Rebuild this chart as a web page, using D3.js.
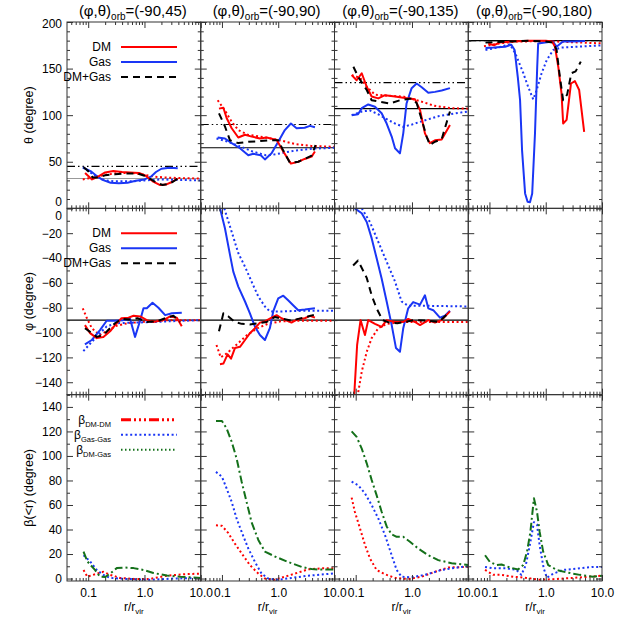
<!DOCTYPE html>
<html>
<head>
<meta charset="utf-8">
<script src="https://cdn.jsdelivr.net/npm/d3@7"></script>
<style>
  body { margin: 0; background: #fff; }
  text { font-family: "Liberation Sans", Arial, Helvetica, sans-serif; fill: #000; }
</style>
</head>
<body>
<script>

// panel titles and the reference angles of each orbit
var orbLabels = ["(-90,45)", "(-90,90)", "(-90,135)", "(-90,180)"];
var orbTheta = [45, 90, 135, 180];
var meanTheta = [32, 65, 107, 180];
var meanPhi = [-90, -90, -90, null];
var xMajor = [0.1, 1, 10];

// theta profiles, one list of [r/rvir, degree] per column
var thetaDM = [
  [[0.088,38],[0.117,31],[0.15,34],[0.2,38.5],[0.28,40],[0.4,39],[0.55,38.5],[0.8,38],[1.05,35],[1.4,29],[1.9,25],[2.4,25.5],[3.0,28],[3.9,32]],
  [[0.0885,107],[0.106,108],[0.121,97],[0.149,86],[0.195,76],[0.257,79],[0.338,77],[0.473,75],[0.622,76],[0.935,73.5],[1.23,61],[1.68,48],[2.27,50],[2.95,53],[3.92,55.5],[4.49,61]],
  [[0.085,143],[0.104,137.5],[0.128,145],[0.157,130.5],[0.192,120],[0.252,118],[0.331,121.5],[0.5,120],[0.75,118.5],[1.13,117],[1.39,105.5],[1.7,80.5],[2.08,70],[2.56,73],[3.37,74],[4.73,89.5]],
  [[0.095,177],[0.12,175],[0.15,178],[0.25,179],[0.5,180],[1.0,180],[1.3,179],[1.46,173.5],[1.67,152],[1.91,123],[2.04,91],[2.35,95],[2.81,134],[3.3,136.5],[3.93,127],[4.82,82]]
];
var thetaGas = [
  [[0.085,43],[0.11,40],[0.14,35],[0.18,30.5],[0.25,27.5],[0.35,27],[0.5,27.5],[0.7,29.5],[1.0,31],[1.3,34],[1.6,39],[2.0,42.5],[2.8,43.5],[3.9,43]],
  [[0.084,76],[0.113,75],[0.149,70],[0.209,64.5],[0.294,57],[0.36,58.5],[0.489,57],[0.58,52.5],[0.762,59],[1.0,71.5],[1.31,84],[1.68,91],[2.12,86],[2.95,86.5],[3.66,88.5],[4.49,87]],
  [[0.085,100],[0.11,101],[0.128,107.5],[0.167,111.5],[0.22,109],[0.289,102],[0.355,91],[0.436,77],[0.5,64.5],[0.611,59],[0.70,80.5],[0.80,112.5],[0.986,129],[1.21,134],[1.49,130],[1.95,124],[2.56,125],[3.37,126.5],[4.73,129]],
  [[0.085,172],[0.12,172.5],[0.19,173.5],[0.245,175.5],[0.28,170],[0.32,140],[0.35,116],[0.38,62],[0.43,16],[0.476,7],[0.525,6.5],[0.575,16],[0.644,80],[0.706,152],[0.734,177],[0.97,178],[1.34,179],[1.56,173.5],[2.02,179],[3.0,179],[5.0,179.5]]
];
var thetaAll = [
  [[0.083,44],[0.1,40],[0.12,33],[0.15,33],[0.2,35.5],[0.3,36.5],[0.5,37.5],[0.75,37.5],[1.0,35],[1.3,31],[1.7,27],[2.1,25],[2.6,26],[3.2,28.5],[3.9,32]],
  [[0.0885,102],[0.113,88],[0.139,73],[0.195,70],[0.294,71.5],[0.443,72],[0.665,73],[1.0,73],[1.23,62],[1.61,49],[2.27,50],[2.95,53],[3.92,56.5],[4.6,68]],
  [[0.091,152],[0.111,141],[0.157,127],[0.192,116],[0.27,114.5],[0.406,112.5],[0.611,116],[0.986,118],[1.21,113],[1.49,95],[1.82,77],[2.08,68],[2.56,71.5],[3.37,74],[3.85,86],[4.73,104]],
  [[0.085,178],[0.2,179],[0.5,180],[1.0,179],[1.36,178],[1.56,170],[1.75,145],[2.04,116],[2.4,122],[2.85,145],[3.4,147],[4.2,157.5]]
];
var thetaDMFit = [
  [[0.08,31],[0.12,33],[0.2,36],[0.35,38],[0.6,38],[1.0,36],[1.5,34],[2.5,33],[4,32.5],[10,32]],
  [[0.084,116],[0.113,105],[0.149,93],[0.195,84],[0.29,79],[0.48,77],[1.0,73.5],[1.98,69],[3.9,67],[10,66]],
  [[0.085,143],[0.12,140],[0.16,130],[0.22,122],[0.35,121],[0.7,120],[1.4,115],[2.5,110],[5,107.5],[10,107]],
  [[0.08,174],[0.15,177],[0.3,179],[1,179.5],[10,177]]
];
var thetaGasFit = [
  [[0.08,44],[0.1,40],[0.14,34],[0.2,30],[0.3,29],[0.6,29],[1,30],[2,31],[4,30.5],[10,30]],
  [[0.08,75],[0.12,72],[0.2,67],[0.35,61],[0.6,57],[0.8,57.5],[1.2,59.5],[2,62],[4,64],[10,65]],
  [[0.085,100],[0.13,104],[0.18,105],[0.25,101],[0.35,96],[0.5,91],[0.7,87.5],[1.0,90],[1.6,94],[3,99],[6,102],[10,104]],
  [[0.085,170],[0.15,173],[0.23,176],[0.29,166],[0.4,145],[0.49,130],[0.6,117],[0.69,127],[0.845,145],[1.04,159],[1.36,170],[1.9,172.5],[3.8,173.5],[10,175]]
];

// phi profiles (last column has none)
var phiDM = [
  [[0.0875,-94],[0.108,-100.5],[0.142,-104.5],[0.186,-103.5],[0.245,-99],[0.30,-94],[0.39,-88.5],[0.52,-88],[0.64,-86.5],[0.84,-87],[1.1,-90],[1.44,-91.5],[2.17,-90],[2.86,-87],[3.76,-88],[4.6,-95]],
  [[0.0922,-125.5],[0.106,-125],[0.126,-117.5],[0.145,-121],[0.17,-112.5],[0.209,-111.5],[0.257,-106],[0.314,-100.5],[0.386,-96.5],[0.473,-92],[0.58,-91],[0.762,-88],[0.935,-86],[1.144,-88.5],[1.72,-92],[2.27,-89],[2.97,-88.5],[3.66,-86.5],[4.49,-88]],
  [[0.0937,-152],[0.106,-110],[0.122,-90],[0.146,-102],[0.167,-90],[0.22,-93],[0.289,-95.5],[0.355,-90],[0.5,-91.5],[0.70,-91.5],[0.857,-89],[1.13,-91.5],[1.39,-94],[1.95,-90],[2.56,-92],[3.37,-90],[4.73,-83]],
  []
];
var phiGas = [
  [[0.0875,-109.5],[0.116,-106],[0.162,-98],[0.213,-90.5],[0.30,-90.5],[0.42,-90],[0.555,-89],[0.68,-103.5],[0.835,-90.5],[0.96,-80.5],[1.1,-80.5],[1.39,-76],[1.77,-80],[2.33,-86],[3.07,-84.5],[4.6,-84]],
  [[0.088,4],[0.113,-16],[0.139,-37.5],[0.159,-51],[0.195,-63],[0.257,-75],[0.314,-84.5],[0.386,-95.3],[0.473,-102],[0.58,-106],[0.71,-96.5],[0.815,-83],[1.0,-72.5],[1.23,-70.3],[1.5,-74],[1.84,-78],[2.27,-82],[2.97,-81.5],[4.49,-80.5]],
  [[0.0965,0],[0.128,-4],[0.157,-11],[0.192,-24],[0.235,-40],[0.289,-56.5],[0.355,-75],[0.436,-94],[0.52,-112.5],[0.611,-115.5],[0.70,-96.5],[0.857,-80.5],[1.05,-75.5],[1.39,-77.5],[1.70,-70],[1.95,-80.5],[2.39,-82],[3.14,-88],[3.85,-86.5],[4.73,-82.5]],
  []
];
var phiAll = [
  [[0.0875,-96.5],[0.108,-99.5],[0.142,-103.5],[0.186,-102],[0.245,-96.5],[0.30,-92.5],[0.39,-89],[0.55,-89.5],[0.75,-88.5],[1.1,-91.5],[1.66,-91],[2.5,-88],[3.27,-86.5],[4.3,-91.5]],
  [[0.0885,-99],[0.106,-84.5],[0.13,-87],[0.17,-91.5],[0.224,-93],[0.314,-93.5],[0.443,-92.5],[0.622,-91.5],[0.87,-87.5],[1.23,-89],[1.72,-90.5],[2.27,-89],[3.17,-87.5],[4.49,-85.5]],
  [[0.09,-46],[0.11,-42],[0.157,-56],[0.192,-70],[0.235,-80.5],[0.3,-90],[0.4,-92],[0.55,-92.5],[0.75,-91.5],[1.1,-90],[1.95,-90.5],[3.0,-91.5],[4.4,-84.5]],
  []
];
var phiDMFit = [
  [[0.08,-80.5],[0.095,-88.5],[0.116,-96.5],[0.16,-102],[0.23,-98],[0.32,-94.5],[0.5,-92.5],[0.84,-91.5],[2.5,-90],[10,-90]],
  [[0.08,-110],[0.095,-120],[0.12,-117],[0.19,-109],[0.28,-102],[0.43,-96.5],[0.65,-93],[1.1,-91],[2.5,-90.5],[10,-90.5]],
  [[0.111,-148],[0.128,-131.5],[0.157,-115.5],[0.192,-104.5],[0.252,-96.5],[0.355,-93],[0.654,-91.5],[10,-91.5]],
  []
];
var phiGasFit = [
  [[0.082,-115],[0.108,-109],[0.15,-102],[0.213,-95],[0.32,-92.5],[0.64,-92],[1.5,-91.5],[2.5,-91],[10,-90]],
  [[0.11,0],[0.149,-19],[0.195,-36],[0.257,-47],[0.336,-59],[0.443,-71],[0.58,-79],[0.71,-83],[1.15,-83],[2.6,-82.5],[10,-82.5]],
  [[0.128,0],[0.179,-11],[0.252,-27],[0.355,-43],[0.5,-59],[0.654,-75],[0.857,-78.5],[1.95,-78.5],[10,-79]],
  []
];

// misalignment angles beta(<r)
var betaDMDM = [
  [[0.0826,7],[0.0966,1.5],[0.132,3.5],[0.186,5.5],[0.245,3],[0.367,0.5],[0.64,-0.3],[1.26,-0.3],[2.5,2.3],[4.9,3.5],[10,4]],
  [[0.0783,43.5],[0.1,43],[0.13,37],[0.17,28.5],[0.224,20.5],[0.314,11],[0.443,4],[0.58,0],[0.87,-1],[1.31,1.5],[1.98,4],[3.4,7.5],[5.9,8.3],[10,8.3]],
  [[0.0847,66],[0.0965,54.5],[0.119,41],[0.146,27.5],[0.179,16.5],[0.235,7],[0.331,3.5],[0.5,0.5],[0.857,-0.4],[1.49,1.5],[2.56,5.5],[4.41,9],[10,9.5]],
  [[0.0835,7],[0.117,3],[0.16,3],[0.264,1.5],[0.455,0.5],[0.78,-1],[1.36,-0.5],[3.08,0.5],[6.05,1.5],[10,2.3]]
];
var betaGasGas = [
  [[0.0826,19],[0.108,14],[0.142,7],[0.186,3],[0.245,0.5],[0.48,-0.3],[1.26,-1],[3.27,0],[10,0.5]],
  [[0.0783,87],[0.1,83],[0.121,73.5],[0.149,62.5],[0.182,49],[0.224,38],[0.294,24.5],[0.386,13.5],[0.506,4],[0.665,0],[1.0,-1],[1.72,0.5],[3.4,2.3],[10,4.2]],
  [[0.0847,79],[0.111,76],[0.146,69.5],[0.192,60],[0.252,49],[0.331,35.5],[0.436,19],[0.534,7],[0.654,1.5],[0.986,1],[1.7,3],[3.37,7],[7.6,9.5],[10,10]],
  [[0.0835,9.5],[0.117,8.3],[0.201,8.3],[0.302,7],[0.369,3],[0.443,11],[0.52,27],[0.617,46],[0.70,44],[0.78,27],[0.92,8.3],[1.05,0.7],[1.36,4],[2.04,7],[4.04,8.3],[6.9,9.5],[10,9.5]]
];
var betaDMGas = [
  [[0.0826,22],[0.0966,14],[0.132,7],[0.162,1.5],[0.2,1.2],[0.245,4],[0.322,8.5],[0.45,9],[0.64,8.5],[0.96,7],[1.44,4.5],[2.5,2.5],[4.3,1.5],[10,0.5]],
  [[0.0783,128.5],[0.1,128.5],[0.121,122.5],[0.149,111.5],[0.182,98],[0.224,79],[0.274,62.5],[0.336,46],[0.443,31.5],[0.58,22],[0.87,18],[1.5,13.5],[2.6,9.5],[3.92,7.7],[5.9,7.3],[10,7.3]],
  [[0.0847,120],[0.104,115.5],[0.128,106],[0.157,94],[0.192,80.5],[0.235,68],[0.289,54.5],[0.355,42.5],[0.436,36],[0.534,34],[0.70,34],[0.92,30],[1.29,24.5],[1.95,19],[2.93,15],[5.06,12.5],[10,11]],
  [[0.0835,19],[0.102,13.5],[0.134,11],[0.164,11.5],[0.232,9],[0.322,7.3],[0.398,11],[0.466,22],[0.534,38],[0.617,65.5],[0.70,54.5],[0.78,38],[0.90,22],[1.107,11],[1.56,7],[2.35,5],[4.04,3],[6.9,1.5],[10,2.3]]
];

// layout
var x0 = 67, colW = 133.75, y0 = 22, rowH = 186.33;
var xDomain = [0.042, 10];

var red = "#ff0000", blue = "#1a36f5", green = "#14701a", black = "#000";
var dashed = "7,5", dotted = "2,2.6", dashDot = "8,3,2,3", dash3dot = "8,3,1.5,3,1.5,3,1.5,3";

var profileLegend = [
  {label: "DM", color: red, dash: null, w: 2},
  {label: "Gas", color: blue, dash: null, w: 2},
  {label: "DM+Gas", color: black, dash: dashed, w: 2}
];

var rows = [
  {domain: [0, 200], step: 10, major: 50, title: "θ (degree)", legend: profileLegend,
   series: [
     {data: thetaDMFit, color: red, dash: dotted},
     {data: thetaGasFit, color: blue, dash: dotted},
     {data: thetaGas, color: blue, dash: null},
     {data: thetaDM, color: red, dash: null},
     {data: thetaAll, color: black, dash: dashed}
   ]},
  {domain: [-150, 0], step: 10, major: 20, title: "φ (degree)", legend: profileLegend,
   series: [
     {data: phiDMFit, color: red, dash: dotted},
     {data: phiGasFit, color: blue, dash: dotted},
     {data: phiGas, color: blue, dash: null},
     {data: phiDM, color: red, dash: null},
     {data: phiAll, color: black, dash: dashed}
   ]},
  {domain: [-2, 150], step: 10, major: 20, title: "β(<r) (degree)",
   legend: [
     {label: "β", sub: "DM-DM", color: red, dash: "10,3,2,3,2,3,2,3", w: 3},
     {label: "β", sub: "Gas-Gas", color: blue, dash: dotted, w: 2},
     {label: "β", sub: "DM-Gas", color: green, dash: "1.5,2.5", w: 2}
   ],
   series: [
     {data: betaDMDM, color: red, dash: dotted},
     {data: betaGasGas, color: blue, dash: dotted},
     {data: betaDMGas, color: green, dash: dashDot}
   ]}
];

var svg = d3.select("body").append("svg")
    .attr("width", 623)
    .attr("height", 623);

rows.forEach(function(row, ri) {
  var py = y0 + ri * rowH;

  for (var ci = 0; ci < 4; ci++) {
    var px = x0 + ci * colW;
    var x = d3.scaleLog().domain(xDomain).range([px, px + colW]);
    var y = d3.scaleLinear().domain(row.domain).range([py + rowH, py]);
    var g = svg.append("g");

    var clipId = "clip" + ri + "_" + ci;
    svg.append("clipPath").attr("id", clipId)
      .append("rect")
        .attr("x", px).attr("y", py)
        .attr("width", colW).attr("height", rowH);

    var plot = g.append("g").attr("clip-path", "url(#" + clipId + ")");

    // horizontal reference lines
    if (ri == 0) {
      plot.append("line")
        .attr("x1", px).attr("x2", px + colW)
        .attr("y1", y(meanTheta[ci])).attr("y2", y(meanTheta[ci]))
        .attr("stroke", ci == 0 ? "#999" : black)
        .attr("stroke-width", 1.2);
      plot.append("line")
        .attr("x1", px).attr("x2", px + colW)
        .attr("y1", y(orbTheta[ci])).attr("y2", y(orbTheta[ci]))
        .attr("stroke", black)
        .attr("stroke-width", 1.2)
        .attr("stroke-dasharray", dash3dot);
    }
    if (ri == 1 && meanPhi[ci] != null) {
      plot.append("line")
        .attr("x1", px).attr("x2", px + colW)
        .attr("y1", y(meanPhi[ci])).attr("y2", y(meanPhi[ci]))
        .attr("stroke", black)
        .attr("stroke-width", 1.2);
    }

    var line = d3.line()
        .x(function(d) { return x(d[0]); })
        .y(function(d) { return y(d[1]); });

    row.series.forEach(function(s) {
      var pts = s.data[ci];
      if (!pts.length) return;
      plot.append("path")
        .attr("d", line(pts))
        .attr("fill", "none")
        .attr("stroke", s.color)
        .attr("stroke-width", 2)
        .attr("stroke-dasharray", s.dash)
        .attr("stroke-linejoin", "round");
    });

    // ticks, pointing inwards on all four sides
    var minorX = x.ticks().filter(function(t) { return xMajor.indexOf(t) < 0; });
    var yTicks = d3.range(row.domain[0] < 0 && ri == 2 ? 0 : row.domain[0], row.domain[1] + 0.1, row.step);
    var minorY = yTicks.filter(function(t) { return t % row.major != 0; });
    var majorY = yTicks.filter(function(t) { return t % row.major == 0; });

    function axis(maker, scale, vals, size, pos, labels, fmt) {
      var a = maker(scale).tickValues(vals).tickSize(-size).tickPadding(labels ? (maker == d3.axisBottom ? 7 : 5) : 0);
      a.tickFormat(labels ? fmt : "");
      var ag = g.append("g").attr("transform", pos).call(a);
      ag.select(".domain").remove();
      ag.selectAll("line").attr("stroke", "#333");
      ag.attr("font-family", null).attr("font-size", 12);
      return ag;
    }

    var bottomLabels = ri == 2;
    axis(d3.axisBottom, x, minorX, 3, "translate(0," + (py + rowH) + ")", false);
    axis(d3.axisBottom, x, xMajor, 6, "translate(0," + (py + rowH) + ")", bottomLabels, d3.format(".1f"));
    axis(d3.axisTop, x, minorX, 3, "translate(0," + py + ")", false);
    axis(d3.axisTop, x, xMajor, 6, "translate(0," + py + ")", false);

    axis(d3.axisLeft, y, minorY, 3, "translate(" + px + ",0)", false);
    var yl = axis(d3.axisLeft, y, majorY, 6, "translate(" + px + ",0)", ci == 0, d3.format("d"));
    axis(d3.axisRight, y, minorY, 3, "translate(" + (px + colW) + ",0)", false);
    axis(d3.axisRight, y, majorY, 6, "translate(" + (px + colW) + ",0)", false);

    if (ci == 0) {
      // nudge the labels that sit on the shared panel edges apart
      yl.selectAll(".tick text").attr("transform", function(d) {
        if (ri == 0 && d == 0) return "translate(0,-7)";
        if (ri == 0 && d == 200) return "translate(0,2)";
        if (ri == 1 && d == 0) return "translate(0,7)";
        return null;
      });
    }

    g.append("rect")
      .attr("x", px).attr("y", py)
      .attr("width", colW).attr("height", rowH)
      .attr("fill", "none")
      .attr("stroke", "#333")
      .attr("stroke-width", 1);

    if (ri == 0) {
      var t = svg.append("text")
        .attr("x", px + colW / 2 - 1)
        .attr("y", 16)
        .attr("text-anchor", "middle")
        .attr("font-size", 15);
      t.append("tspan").text("(φ,θ)");
      t.append("tspan").attr("font-size", 10).attr("dy", 4).text("orb");
      t.append("tspan").attr("dy", -4).text("=" + orbLabels[ci]);
    }

    if (ri == 2) {
      var xt = svg.append("text")
        .attr("x", px + colW / 2)
        .attr("y", 611)
        .attr("text-anchor", "middle")
        .attr("font-size", 12);
      xt.append("tspan").text("r/r");
      xt.append("tspan").attr("font-size", 8).attr("dy", 3).text("vir");
    }

    if (ci == 0) {
      // legend
      row.legend.forEach(function(item, k) {
        var ly = py + 25 + k * 15;
        var lt = svg.append("text")
          .attr("x", px + 44)
          .attr("y", ly + 4)
          .attr("text-anchor", "end")
          .attr("font-size", 12);
        lt.append("tspan").text(item.label);
        if (item.sub) lt.append("tspan").attr("font-size", 7.5).attr("dy", 3).text(item.sub);
        svg.append("line")
          .attr("x1", px + 54).attr("x2", px + 110)
          .attr("y1", ly).attr("y2", ly)
          .attr("stroke", item.color)
          .attr("stroke-width", item.w)
          .attr("stroke-dasharray", item.dash);
      });

      svg.append("text")
        .attr("transform", "translate(33," + (py + rowH / 2) + ") rotate(-90)")
        .attr("text-anchor", "middle")
        .attr("font-size", 12.5)
        .text(row.title);
    }
  }
});

</script>
</body>
</html>
